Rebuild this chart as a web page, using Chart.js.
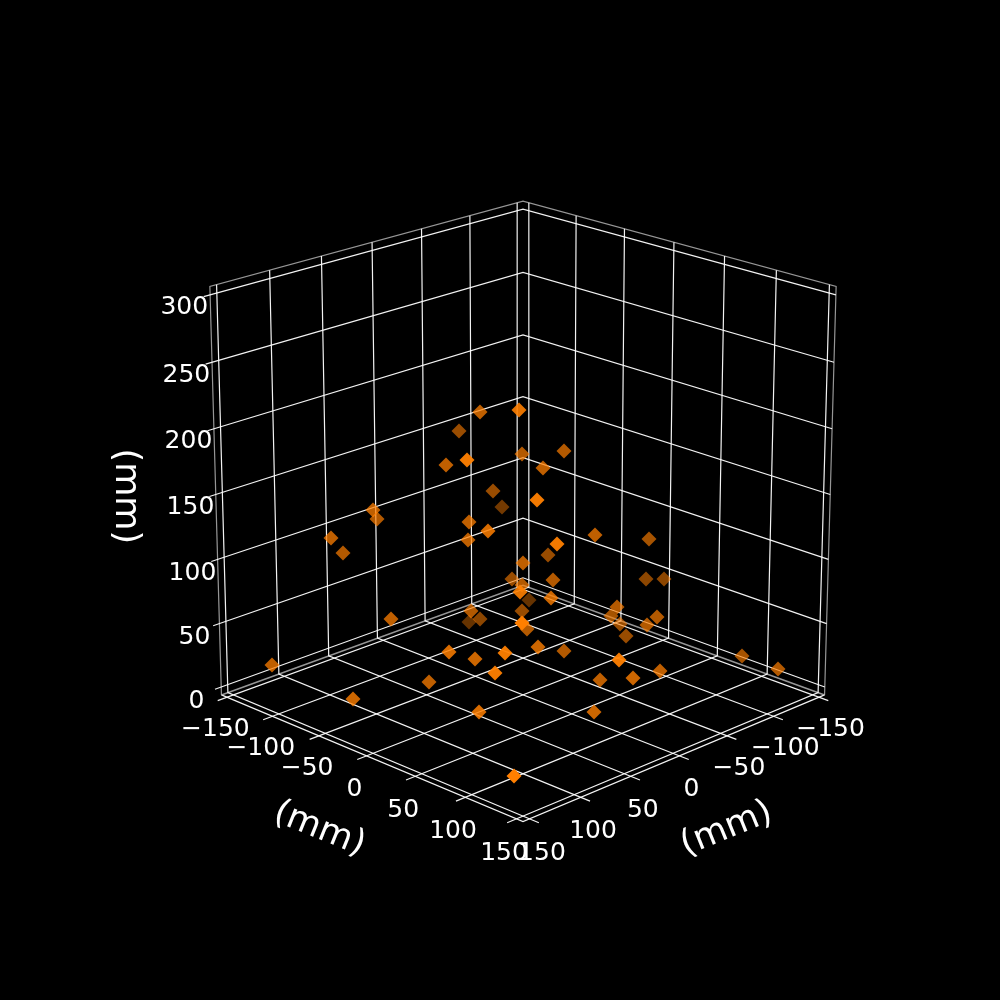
<!DOCTYPE html>
<html>
<head>
<meta charset="utf-8">
<script src="https://cdn.jsdelivr.net/npm/chart.js@4"></script>
<style>
  html, body { margin: 0; padding: 0; background: #000; }
  canvas { display: block; }
</style>
</head>
<body>
<canvas id="myChart" width="1000" height="1000"></canvas>
<script>
// tick values on the three axes (mm)
const xTicks = [-150, -100, -50, 0, 50, 100, 150];
const yTicks = [-150, -100, -50, 0, 50, 100, 150];
const zTicks = [0, 50, 100, 150, 200, 250, 300];
const xTickLabels = ["\u2212150", "\u2212100", "\u221250", "0", "50", "100", "150"];
const yTickLabels = ["\u2212150", "\u2212100", "\u221250", "0", "50", "100", "150"];
const zTickLabels = ["0", "50", "100", "150", "200", "250", "300"];
const axisTitle = "(mm)";

// scatter points, with how strong the depth shading looks
const pointsH = [519, 480, 459, 522, 564, 543, 446, 467, 493, 502, 537, 373, 377, 469, 488, 468, 331, 343, 595, 649,
  557, 548, 523, 646, 664, 512, 553, 522, 520, 529, 551, 471, 469, 480, 522, 522, 527, 538, 564, 505,
  475, 449, 391, 617, 611, 620, 657, 647, 626, 272, 353, 429, 495, 479, 514, 600, 619, 633, 660, 594, 742, 778];
const pointsV = [410, 412, 431, 454, 451, 468, 465, 460, 491, 507, 500, 510, 519, 522, 531, 540, 538, 553, 535, 539,
  544, 555, 563, 579, 579, 579, 580, 585, 592, 600, 598, 611, 622, 619, 611, 623, 629, 647, 651, 653,
  659, 652, 619, 607, 616, 624, 617, 625, 636, 665, 699, 682, 673, 712, 776, 680, 660, 678, 671, 712, 656, 669];
const pointsShade = [0.9, 0.75, 0.6, 0.7, 0.7, 0.75, 0.75, 0.95, 0.6, 0.45, 0.95, 0.75, 0.7, 0.75, 0.85, 0.75, 0.75, 0.7, 0.75, 0.65,
  0.95, 0.6, 0.75, 0.55, 0.55, 0.6, 0.7, 0.7, 0.9, 0.4, 0.8, 0.7, 0.4, 0.55, 0.6, 1, 0.7, 0.8, 0.7, 0.95,
  0.8, 0.85, 0.75, 0.7, 0.65, 0.6, 0.7, 0.7, 0.6, 0.75, 0.8, 0.75, 0.95, 0.85, 1, 0.75, 0.95, 0.8, 0.75, 0.8, 0.65, 0.7];

// camera, same maths as a matplotlib 3d axes
const elev = 20 * Math.PI / 180, azim = 45 * Math.PI / 180, dist = 10;
const half = 0.55, viewScale = 3950, centreH = 523, centreV = 494.5;
const xMin = -156.25, xMax = 156.25, yMin = -156.25, yMax = 156.25, zMin = -6.25, zMax = 306.25;

function project(x, y, z) {
    const dx = ((x - xMin) / (xMax - xMin) - 0.5) * 2 * half;
    const dy = ((y - yMin) / (yMax - yMin) - 0.5) * 2 * half;
    const dz = ((z - zMin) / (zMax - zMin) - 0.5) * 2 * half;
    const ce = Math.cos(elev), se = Math.sin(elev), ca = Math.cos(azim), sa = Math.sin(azim);
    const u = -sa * dx + ca * dy;
    const v = -se * ca * dx - se * sa * dy + ce * dz;
    const n = ce * ca * dx + ce * sa * dy + se * dz;
    const d = dist - n;
    return { x: centreH + viewScale * u / d, y: centreV - viewScale * v / d };
}

function lineSet(pts, color, width) {
    return { type: 'line', data: pts, borderColor: color, borderWidth: width, pointRadius: 0, fill: false, tension: 0, order: 2, spanGaps: false };
}

const gridColor = 'rgba(255,255,255,0.95)';
const paneColor = 'rgba(200,200,200,0.75)';
const tickOut = 9, zTickOut = 6;
const datasets = [];

// grid lines on the floor and the two back walls, ticks run past the front edge
for (const t of xTicks) {
    datasets.push(lineSet([project(t, yMax + tickOut, zMin), project(t, yMin, zMin), project(t, yMin, zMax)], gridColor, 1.2));
}
for (const t of yTicks) {
    datasets.push(lineSet([project(xMax + tickOut, t, zMin), project(xMin, t, zMin), project(xMin, t, zMax)], gridColor, 1.2));
}
for (const t of zTicks) {
    datasets.push(lineSet([project(xMax + zTickOut, yMin, t), project(xMin, yMin, t), project(xMin, yMax, t)], gridColor, 1.2));
}

// pane outlines
datasets.push(lineSet([project(xMax, yMin, zMin), project(xMax, yMin, zMax), project(xMin, yMin, zMax), project(xMin, yMax, zMax), project(xMin, yMax, zMin)], paneColor, 1.2));
datasets.push(lineSet([project(xMax, yMin, zMin), project(xMin, yMin, zMin), project(xMin, yMax, zMin)], paneColor, 1.6));
// axis lines along the front floor edges
datasets.push(lineSet([project(xMax, yMin, zMin), project(xMax, yMax, zMin), project(xMin, yMax, zMin)], gridColor, 1.2));

// the scatter
const markerColors = pointsShade.map(a => `rgba(255,127,0,${a})`);
datasets.push({
    type: 'scatter',
    data: pointsH.map((h, i) => ({ x: h, y: pointsV[i] })),
    pointStyle: 'rectRot',
    pointRadius: 7.5,
    pointBackgroundColor: markerColors,
    pointBorderColor: markerColors,
    pointBorderWidth: 0,
    order: 1
});

// tick labels and axis titles
const labelPlugin = {
    id: 'labels3d',
    afterDatasetsDraw(chart) {
        const { ctx, scales } = chart;
        const put = (p, text, size, angle) => {
            ctx.save();
            ctx.translate(scales.x.getPixelForValue(p.x), scales.y.getPixelForValue(p.y));
            ctx.rotate(angle * Math.PI / 180);
            ctx.font = `${size}px "DejaVu Sans"`;
            ctx.fillStyle = '#fff';
            ctx.textAlign = 'center';
            ctx.textBaseline = 'middle';
            ctx.fillText(text, 0, 0);
            ctx.restore();
        };
        xTicks.forEach((t, i) => put(project(t, yMax + 12, zMin - 22), xTickLabels[i], 25, 0));
        yTicks.forEach((t, i) => put(project(xMax + 12, t, zMin - 22), yTickLabels[i], 25, 0));
        zTicks.forEach((t, i) => put(project(xMax + 24, yMin, t - 4), zTickLabels[i], 25, 0));
        put(project(xMax + 46, 0, zMin - 42), axisTitle, 35, 22);
        put(project(0, yMax + 46, zMin - 42), axisTitle, 35, -22);
        put(project(xMax + 83, yMin, 170), axisTitle, 35, 90);
    }
};

new Chart(document.getElementById('myChart').getContext('2d'), {
    data: { datasets: datasets },
    options: {
        responsive: false,
        animation: false,
        layout: { padding: 0, autoPadding: false },
        clip: false,
        plugins: { legend: { display: false }, title: { display: false }, tooltip: { enabled: false } },
        scales: {
            x: { type: 'linear', min: 0, max: 1000, display: false },
            y: { type: 'linear', min: 0, max: 1000, reverse: true, display: false }
        }
    },
    plugins: [{ id: 'bg', beforeDraw(c) { c.ctx.fillStyle = '#000'; c.ctx.fillRect(0, 0, 1000, 1000); } }, labelPlugin]
});
</script>
</body>
</html>
